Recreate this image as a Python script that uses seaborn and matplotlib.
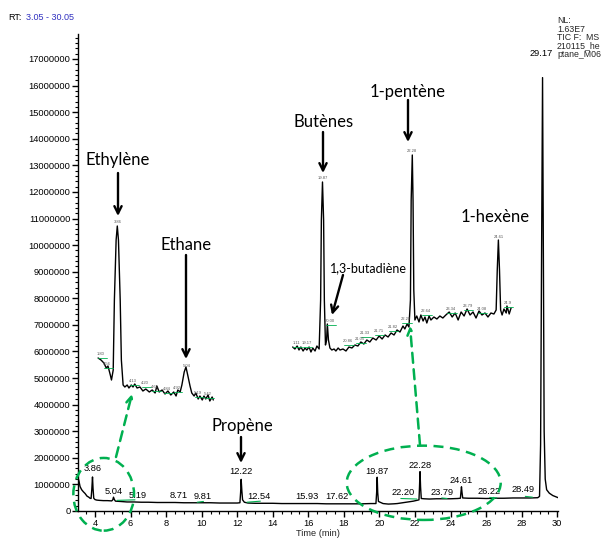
import matplotlib
matplotlib.use("Agg")
import numpy as np
import pandas as pd
import matplotlib.pyplot as plt
from matplotlib.patches import Ellipse
from matplotlib.ticker import MultipleLocator, FuncFormatter
import seaborn as sns

# ---- main TIC trace (time in min, intensity in millions of counts)
main_time = [3.05, 3.10, 3.16, 3.25, 3.35, 3.44, 3.55, 3.65, 3.72, 3.78, 3.82, 3.86, 3.89, 3.93,
             4.00, 4.10, 4.25, 4.47, 4.70, 4.94, 5.00, 5.04, 5.09, 5.15, 5.40, 5.80, 6.20, 6.60,
             7.00, 7.50, 8.00, 8.50, 9.00, 9.50, 10.00, 10.50, 11.00, 11.50, 12.00, 12.15, 12.19,
             12.22, 12.26, 12.30, 12.40, 12.60, 13.00, 13.50, 14.00, 14.50, 15.00, 15.50, 16.00,
             16.50, 17.00, 17.50, 18.00, 18.50, 19.00, 19.50, 19.80, 19.84, 19.87, 19.90, 19.94,
             20.00, 20.20, 20.50, 20.80, 21.00, 21.30, 21.60, 21.90, 22.10, 22.22, 22.25, 22.28,
             22.31, 22.35, 22.50, 22.80, 23.20, 23.60, 24.00, 24.40, 24.55, 24.58, 24.61, 24.64,
             24.68, 25.00, 25.50, 26.00, 26.50, 27.00, 27.50, 28.00, 28.50, 28.90, 29.00, 29.06,
             29.11, 29.17, 29.22, 29.26, 29.32, 29.40, 29.55, 29.75, 30.05]
main_int_m = [1.24, 1.12, 0.92, 0.80, 0.72, 0.66, 0.56, 0.52, 0.48, 0.47, 0.80, 1.28, 0.85, 0.48,
              0.43, 0.41, 0.40, 0.39, 0.39, 0.38, 0.42, 0.52, 0.43, 0.37, 0.36, 0.34, 0.34, 0.33,
              0.33, 0.32, 0.32, 0.32, 0.31, 0.31, 0.31, 0.31, 0.30, 0.30, 0.30, 0.31, 0.70,
              1.19, 0.75, 0.42, 0.33, 0.30, 0.29, 0.29, 0.29, 0.28, 0.28, 0.28, 0.28,
              0.28, 0.27, 0.27, 0.27, 0.27, 0.27, 0.28, 0.28, 0.70, 1.27, 0.70, 0.36,
              0.34, 0.28, 0.26, 0.27, 0.28, 0.31, 0.34, 0.37, 0.40, 0.42, 0.90, 1.48,
              0.90, 0.47, 0.46, 0.45, 0.46, 0.46, 0.46, 0.47, 0.48, 0.70, 0.91, 0.70,
              0.49, 0.48, 0.48, 0.47, 0.48, 0.48, 0.49, 0.49, 0.49, 0.50, 0.55, 2.50,
              9.00, 16.30, 9.00, 3.00, 1.20, 0.80, 0.67, 0.58, 0.50]

peak_labels = ['3.86', '5.04', '5.19', '8.71', '9.81', '12.22', '12.54', '15.93', '17.62',
               '19.87', '22.20', '22.28', '23.79', '24.61', '26.22', '28.49', '29.17']
peak_label_x = [3.87, 5.07, 6.38, 8.73, 10.06, 12.21, 13.23, 15.91, 17.60,
                19.88, 21.31, 22.28, 23.53, 24.59, 26.18, 28.09, 29.08]
peak_label_y_m = [1.58, 0.75, 0.60, 0.60, 0.56, 1.47, 0.53, 0.53, 0.53,
                  1.50, 0.68, 1.73, 0.71, 1.13, 0.75, 0.79, 17.19]

# ---- inset 1 : ethylene / ethane region (relative intensity)
ins1_time = [3.53, 3.58, 3.63, 3.67, 3.70, 3.74, 3.76, 3.79, 3.81, 3.84, 3.86, 3.88, 3.91, 3.93,
             3.96, 3.99, 4.03, 4.06, 4.10, 4.13, 4.16, 4.20, 4.25, 4.30, 4.35, 4.41, 4.46, 4.51,
             4.54, 4.58, 4.63, 4.68, 4.73, 4.78, 4.83, 4.87, 4.90, 4.94, 4.97, 5.01, 5.04, 5.07,
             5.11, 5.14, 5.18, 5.21, 5.25, 5.28, 5.32, 5.35, 5.38, 5.42, 5.45, 5.49, 5.51]
ins1_int = [52, 50, 47, 42, 44, 35, 30, 40, 110, 170, 184, 170, 110, 50,
            25, 23, 25, 22, 25, 23, 26, 22, 23, 19, 21, 18, 20, 17,
            24, 18, 20, 16, 19, 15, 18, 14, 20, 18, 25, 38, 43, 35,
            24, 17, 14, 17, 11, 14, 10, 14, 11, 15, 9, 13, 10]
ins1_labels = ['1.80', '3.56', '3.86', '4.13', '4.20', '4.61', '4.84', '4.92', '5.04', '5.19', '5.42']
ins1_label_x = [3.575, 3.678, 3.863, 4.135, 4.336, 4.508, 4.709, 4.88, 5.05, 5.25, 5.42]
ins1_label_y = [56, 46, 188, 29, 27, 23, 21, 22, 44, 17, 16]

# ---- inset 2 : butenes / pentene / hexene region (relative intensity)
ins2_time = [19.07, 19.13, 19.19, 19.24, 19.29, 19.35, 19.40, 19.45, 19.51, 19.56, 19.61, 19.67,
             19.72, 19.78, 19.82, 19.84, 19.87, 19.90, 19.92, 19.95, 19.98, 20.00, 20.03, 20.07,
             20.12, 20.18, 20.23, 20.29, 20.34, 20.42, 20.50, 20.58, 20.66, 20.74, 20.82, 20.90,
             20.98, 21.06, 21.14, 21.22, 21.31, 21.39, 21.47, 21.55, 21.63, 21.71, 21.79, 21.87,
             21.95, 22.03, 22.08, 22.14, 22.19, 22.23, 22.25, 22.28, 22.30, 22.32, 22.35, 22.40,
             22.46, 22.51, 22.57, 22.62, 22.67, 22.73, 22.78, 22.86, 22.94, 23.02, 23.10, 23.18,
             23.27, 23.35, 23.43, 23.51, 23.59, 23.67, 23.75, 23.83, 23.91, 23.99, 24.07, 24.15,
             24.23, 24.31, 24.39, 24.47, 24.53, 24.56, 24.59, 24.62, 24.65, 24.69, 24.74, 24.80,
             24.82, 24.88, 24.93]
ins2_int = [13, 11, 14, 10, 13, 9, 12, 10, 13, 8, 12, 9,
            14, 11, 60, 140, 178, 140, 60, 15, 20, 36, 20, 12,
            10, 11, 9, 12, 10, 11, 9, 13, 12, 15, 14, 18,
            16, 20, 18, 22, 20, 24, 21, 25, 23, 27, 25, 30,
            28, 34, 31, 36, 33, 60, 160, 205, 160, 70, 40, 44,
            38, 45, 39, 43, 37, 44, 40, 43, 41, 44, 42, 45,
            48, 43, 47, 40, 48, 44, 51, 45, 48, 42, 49, 45,
            47, 43, 47, 46, 50, 90, 120, 90, 50, 45, 51, 47,
            54, 46, 52]
ins2_labels = ['1.11', '19.17', '19.87', '20.00', '20.86', '21.05', '21.33', '21.71', '21.82',
               '22.20', '22.28', '22.64', '23.34', '23.79', '24.08', '24.61', '24.9']
ins2_label_x = [19.18, 19.45, 19.87, 20.07, 20.56, 20.88, 21.01, 21.37, 21.75,
                22.11, 22.28, 22.65, 23.32, 23.77, 24.14, 24.59, 24.83]
ins2_label_y = [17, 17, 182, 39, 19, 21, 27, 29, 33, 41, 209, 49, 51, 54, 51, 123, 57]

W, H = 603, 539
GREEN = '#00b050'


def fx(x):
    return x / W


def fy(y):
    return 1 - y / H


sns.set_style('ticks')
plt.rcParams['font.family'] = ['Liberation Sans', 'DejaVu Sans']

fig = plt.figure(figsize=(W / 100, H / 100), dpi=100)
ax = fig.add_axes([fx(78.1), fy(511), (558.2 - 78.1) / W, (511 - 34) / H])

main_df = pd.DataFrame({'time': main_time, 'intensity': np.array(main_int_m) * 1e6})
sns.lineplot(data=main_df, x='time', y='intensity', ax=ax, color='black', lw=1.0)

ax.set_xlim(3.05, 30.05)
ax.set_ylim(0, 17.94e6)
ax.xaxis.set_major_locator(MultipleLocator(2))
ax.xaxis.set_minor_locator(MultipleLocator(0.5))
ax.yaxis.set_major_locator(MultipleLocator(1e6))
ax.yaxis.set_minor_locator(MultipleLocator(2e5))
ax.yaxis.set_major_formatter(FuncFormatter(lambda v, p: f"{int(round(v))}"))
ax.set_xlabel('')
ax.set_ylabel('')
ax.tick_params(which='major', length=4, width=1, labelsize=6.7, pad=1.5, colors='black')
ax.tick_params(which='minor', length=2.5, width=0.8, colors='black')
sns.despine(ax=ax)
for s in ['left', 'bottom']:
    ax.spines[s].set_linewidth(1)
    ax.spines[s].set_color('black')

for lab, x, y in zip(peak_labels, peak_label_x, peak_label_y_m):
    ax.text(x, y * 1e6, lab, ha='center', va='center', fontsize=6.7, color='black')

# small green integration marks on the main trace
ax.plot([5.25, 6.25], [0.40e6, 0.42e6], color=GREEN, lw=0.8)
ax.plot([9.75, 10.1], [0.33e6, 0.36e6], color=GREEN, lw=0.8)
ax.plot([12.55, 13.3], [0.33e6, 0.37e6], color=GREEN, lw=0.8)
ax.plot([21.2, 22.1], [0.47e6, 0.45e6], color=GREEN, lw=0.8)
ax.plot([23.5, 23.8], [0.49e6, 0.47e6], color=GREEN, lw=0.8)
ax.plot([26.2, 26.6], [0.51e6, 0.49e6], color=GREEN, lw=0.8)
ax.plot([28.2, 28.6], [0.55e6, 0.52e6], color=GREEN, lw=0.8)

# ---- inset traces
ins1 = fig.add_axes([fx(90), fy(410), (220 - 90) / W, (410 - 215) / H])
sns.lineplot(x=ins1_time, y=ins1_int, ax=ins1, color='black', lw=1.0)
ins1.set_xlim(3.391, 5.625)
ins1.set_ylim(0, 195)
ins1.axis('off')
for lab, x, y in zip(ins1_labels, ins1_label_x, ins1_label_y):
    ins1.text(x, y, lab, ha='center', va='center', fontsize=3, color='#555555')
    if lab not in ('3.86', '5.04'):
        ins1.plot([x - 0.05, x + 0.1], [y - 4, y - 4], color=GREEN, lw=0.6)

ins2 = fig.add_axes([fx(285), fy(360), (515 - 285) / W, (360 - 140) / H])
sns.lineplot(x=ins2_time, y=ins2_int, ax=ins2, color='black', lw=1.0)
ins2.set_xlim(18.864, 25.036)
ins2.set_ylim(0, 220)
ins2.axis('off')
for lab, x, y in zip(ins2_labels, ins2_label_x, ins2_label_y):
    ins2.text(x, y, lab, ha='center', va='center', fontsize=3, color='#555555')
    if lab not in ('19.87', '22.28', '24.61'):
        ins2.plot([x - 0.1, x + 0.15], [y - 4, y - 4], color=GREEN, lw=0.6)

# ---- compound annotations
names = [('Ethylène', 118, 160, 12), ('Ethane', 186, 245, 12), ('Butènes', 324, 122, 12),
         ('1-pentène', 408, 92, 12), ('1,3-butadiène', 368, 268, 9), ('1-hexène', 495, 217, 12),
         ('Propène', 242, 426, 12)]
for s, x, y, fs in names:
    fig.text(fx(x), fy(y), s, ha='center', va='center', fontsize=fs,
             family=['Lato', 'DejaVu Sans'], color='black')

arrows = [((118, 173), (118, 216)), ((186, 255), (186, 359)), ((323, 132), (323, 173)),
          ((408, 100), (408, 142)), ((343, 275), (332, 315)), ((241, 437), (241, 463))]
for (sx, sy), (tx, ty) in arrows:
    ax.annotate('', xy=(fx(tx), fy(ty)), xytext=(fx(sx), fy(sy)),
                xycoords='figure fraction', textcoords='figure fraction', annotation_clip=False,
                arrowprops=dict(arrowstyle='->', lw=1.7, color='black', mutation_scale=13,
                                shrinkA=0, shrinkB=0))

# ---- green dashed ellipses and arrows
for cx, cy, w, h in [(103.7, 494.3, 60.7, 72.7), (423.7, 482.8, 154, 74.3)]:
    fig.add_artist(Ellipse((fx(cx), fy(cy)), w / W, h / H, transform=fig.transFigure,
                           fill=False, ec=GREEN, lw=1.8, ls=(0, (4, 2.6))))
for (sx, sy), (tx, ty) in [((116, 457), (132, 394)), ((420, 445), (410, 326))]:
    ax.annotate('', xy=(fx(tx), fy(ty)), xytext=(fx(sx), fy(sy)),
                xycoords='figure fraction', textcoords='figure fraction', annotation_clip=False,
                arrowprops=dict(arrowstyle='->', lw=1.8, color=GREEN, mutation_scale=12,
                                ls=(0, (4, 2.6)), shrinkA=0, shrinkB=0))

# ---- header / footer text
fig.text(fx(8), fy(17), 'RT:', fontsize=6.5, va='center', ha='left', color='black')
fig.text(fx(26), fy(17), '3.05 - 30.05', fontsize=6.5, va='center', ha='left', color='#3030c0')
for i, line in enumerate(['NL:', '1.63E7', 'TIC F:  MS', '210115_he', 'ptane_M06']):
    fig.text(fx(557), fy(20.7 + i * 8.4), line, fontsize=6.3, va='center', ha='left')
fig.text(fx(318), fy(533.5), 'Time (min)', fontsize=6.7, va='center', ha='center')

fig.savefig('out.png', dpi=100)
